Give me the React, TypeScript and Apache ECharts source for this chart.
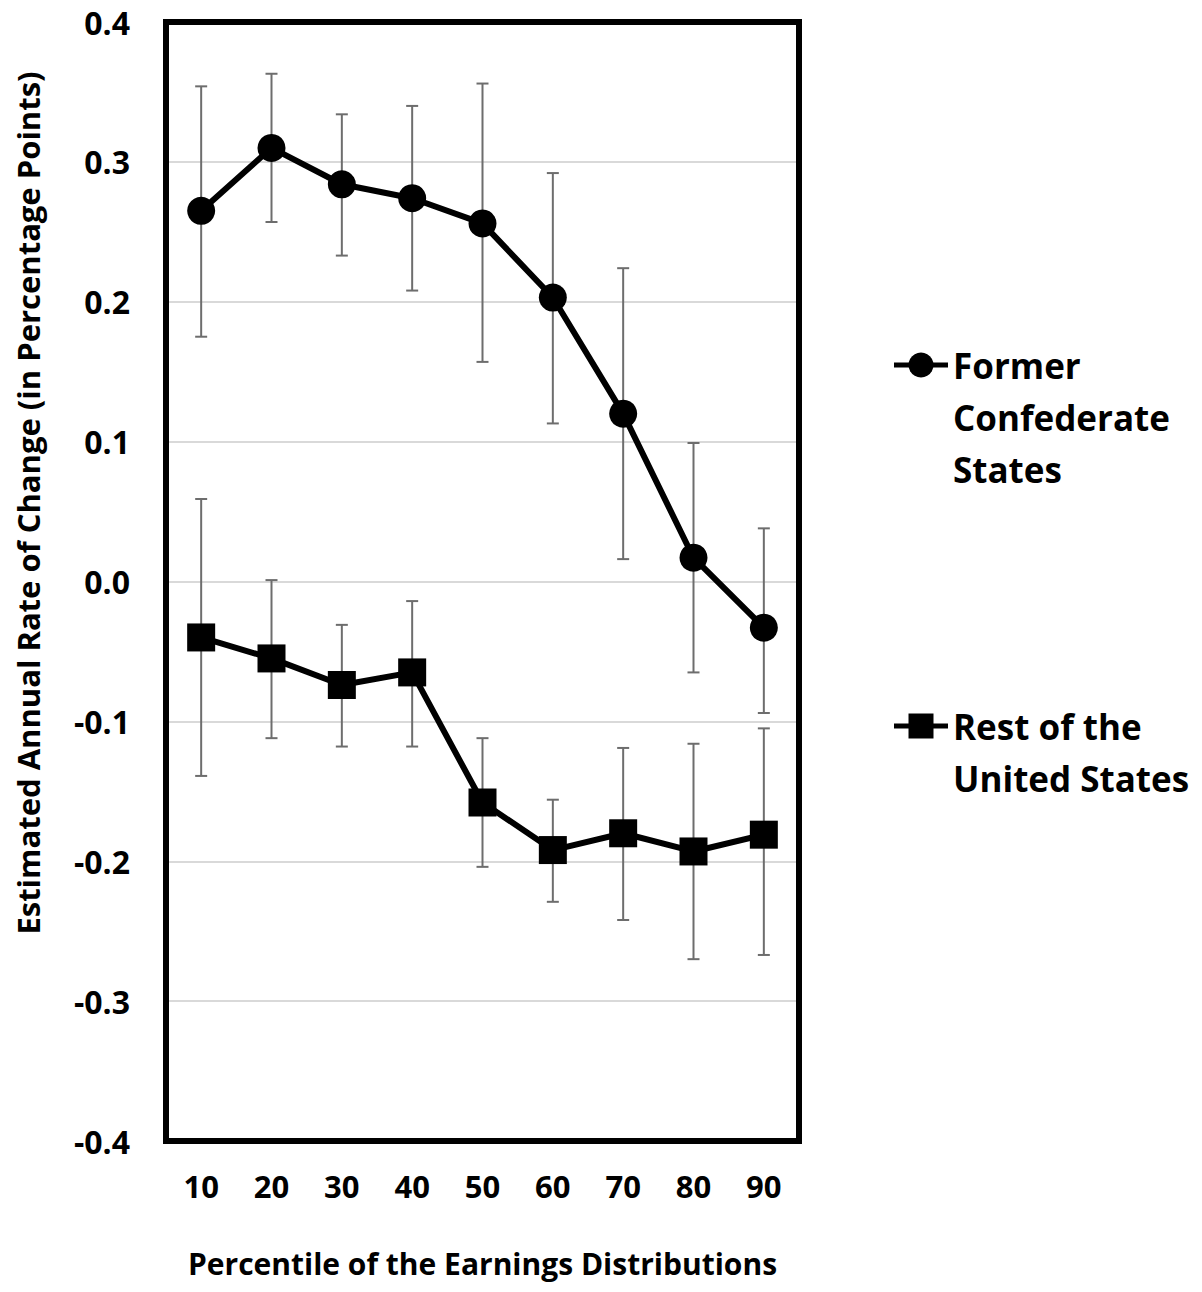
import React, { useEffect, useRef } from "react";
import * as echarts from "echarts";

const categories = ["10", "20", "30", "40", "50", "60", "70", "80", "90"];
const confederate = [0.265, 0.31, 0.284, 0.274, 0.256, 0.203, 0.12, 0.017, -0.033];
const confederateLow = [0.175, 0.257, 0.233, 0.208, 0.157, 0.113, 0.016, -0.065, -0.094];
const confederateHigh = [0.354, 0.363, 0.334, 0.34, 0.356, 0.292, 0.224, 0.099, 0.038];
const rest = [-0.04, -0.055, -0.074, -0.065, -0.158, -0.192, -0.18, -0.193, -0.181];
const restLow = [-0.139, -0.112, -0.118, -0.118, -0.204, -0.229, -0.242, -0.27, -0.267];
const restHigh = [0.059, 0.001, -0.031, -0.014, -0.112, -0.156, -0.119, -0.116, -0.105];
const yTicks = [-0.4, -0.3, -0.2, -0.1, 0.0, 0.1, 0.2, 0.3, 0.4];

const FONT = "'Open Sans'";

export default function App() {
  const ref = useRef<HTMLDivElement>(null);
  useEffect(() => {
    document.body.style.margin = "0";
    const chart = echarts.init(ref.current!, null, { renderer: "svg" });
    const errData = (lo: number[], hi: number[]) => lo.map((l, i) => [i, l, hi[i]]);
    const errRender = (params: any, api: any) => {
      const i = api.value(0);
      const lo = api.coord([i, api.value(1)]);
      const hi = api.coord([i, api.value(2)]);
      const cap = 6;
      const style = { stroke: "#6d6d6d", lineWidth: 2 };
      return {
        type: "group",
        children: [
          { type: "line", shape: { x1: lo[0], y1: lo[1], x2: hi[0], y2: hi[1] }, style },
          { type: "line", shape: { x1: lo[0] - cap, y1: lo[1], x2: lo[0] + cap, y2: lo[1] }, style },
          { type: "line", shape: { x1: hi[0] - cap, y1: hi[1], x2: hi[0] + cap, y2: hi[1] }, style },
        ],
      };
    };
    const legendItem = (y: number, symbol: "circle" | "square", text: string) => ({
      type: "group",
      children: [
        { type: "line", shape: { x1: 894, y1: y, x2: 948, y2: y }, style: { stroke: "#000", lineWidth: 5 } },
        symbol === "circle"
          ? { type: "circle", shape: { cx: 921, cy: y, r: 12.5 }, style: { fill: "#000" } }
          : { type: "rect", shape: { x: 908.5, y: y - 12.5, width: 25, height: 25 }, style: { fill: "#000" } },
        {
          type: "text",
          x: 953,
          y: y - 26,
          style: {
            text,
            font: `bold 35px ${FONT}`,
            fill: "#000",
            lineHeight: 52,
            verticalAlign: "top",
            align: "left",
          },
        },
      ],
    });
    const frameLine = { show: true, onZero: false, lineStyle: { color: "#000", width: 6, cap: "square" } };
    chart.setOption({
      animation: false,
      backgroundColor: "#fff",
      grid: {
        left: 166,
        right: 403,
        top: 22,
        bottom: 151,
        show: false,
      },
      xAxis: [
        {
          type: "category",
          data: categories,
          boundaryGap: true,
          position: "bottom",
          axisLine: frameLine,
          axisTick: { show: false },
          axisLabel: {
            color: "#000",
            fontFamily: FONT,
            fontWeight: "bold",
            fontSize: 31,
            margin: 29,
          },
          name: "Percentile of the Earnings Distributions",
          nameLocation: "middle",
          nameGap: 107,
          nameTextStyle: { color: "#000", fontFamily: FONT, fontWeight: "bold", fontSize: 30 },
        },
        {
          type: "category",
          data: categories,
          boundaryGap: true,
          position: "top",
          axisLine: frameLine,
          axisTick: { show: false },
          axisLabel: { show: false },
        },
      ],
      yAxis: [
        {
          type: "value",
          min: -0.4,
          max: 0.4,
          interval: 0.1,
          position: "left",
          axisLine: frameLine,
          axisTick: { show: false },
          splitLine: { show: true, showMinLine: false, showMaxLine: false, lineStyle: { color: "#d9d9d9", width: 2 } },
          axisLabel: {
            color: "#000",
            fontFamily: FONT,
            fontWeight: "bold",
            fontSize: 32,
            margin: 36,
            formatter: (v: number) => {
              const t = yTicks.find((k) => Math.abs(k - v) < 1e-9);
              return (t === undefined ? v : t).toFixed(1);
            },
          },
        },
        {
          type: "value",
          min: -0.4,
          max: 0.4,
          interval: 0.1,
          position: "right",
          axisLine: frameLine,
          axisTick: { show: false },
          splitLine: { show: false },
          axisLabel: { show: false },
        },
      ],
      graphic: [
        {
          type: "text",
          x: 28,
          y: 503,
          rotation: Math.PI / 2,
          style: {
            text: "Estimated Annual Rate of Change (in Percentage Points)",
            font: `bold 31px ${FONT}`,
            fill: "#000",
            align: "center",
            verticalAlign: "middle",
          },
        },
        legendItem(365, "circle", "Former\nConfederate\nStates"),
        legendItem(726, "square", "Rest of the\nUnited States"),
      ],
      series: [
        {
          type: "custom",
          name: "Former Confederate States CI",
          data: errData(confederateLow, confederateHigh),
          renderItem: errRender,
          z: 1,
          silent: true,
        },
        {
          type: "custom",
          name: "Rest of the United States CI",
          data: errData(restLow, restHigh),
          renderItem: errRender,
          z: 1,
          silent: true,
        },
        {
          type: "line",
          name: "Former Confederate States",
          data: confederate,
          symbol: "circle",
          symbolSize: 28,
          lineStyle: { color: "#000", width: 6 },
          itemStyle: { color: "#000" },
          z: 3,
        },
        {
          type: "line",
          name: "Rest of the United States",
          data: rest,
          symbol: "rect",
          symbolSize: 28,
          lineStyle: { color: "#000", width: 6 },
          itemStyle: { color: "#000" },
          z: 3,
        },
      ],
    });
    return () => chart.dispose();
  }, []);
  return <div ref={ref} style={{ width: 1202, height: 1292 }} />;
}
